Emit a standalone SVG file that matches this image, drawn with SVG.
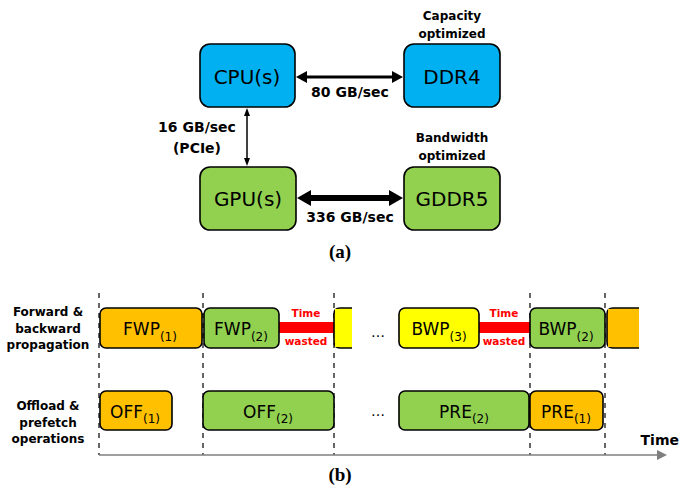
<svg xmlns="http://www.w3.org/2000/svg" width="680" height="491" viewBox="0 0 680 491">
<style>
text{font-family:"DejaVu Sans","Noto Sans",sans-serif;fill:#000}
.box{stroke:#000;stroke-width:1.6}
.big{font-size:20px;text-anchor:middle}
.lbl{font-size:12px;font-weight:bold;text-anchor:middle}
.bw{font-size:14px;font-weight:bold;text-anchor:middle}
.cap{font-family:"Liberation Serif",serif;font-size:19px;font-weight:bold;text-anchor:middle}
.seg{font-size:17px;text-anchor:middle}
.sub{font-size:12px}
.red{fill:#FF0000;font-size:10.5px;font-weight:bold;text-anchor:middle}
.dash{stroke:#000;stroke-width:1.2;stroke-dasharray:5,5}
.blue{fill:#00B0F0}.green{fill:#92D050}.orange{fill:#FFC000}.yellow{fill:#FFFF00}
</style>
<g id="cpu"><rect class="box blue" x="200" y="44" width="95" height="63" rx="10"/><text class="big" x="247" y="84">CPU(s)</text></g>
<g id="ddr4"><rect class="box blue" x="404" y="44" width="96" height="63" rx="10"/><text class="big" x="452" y="84">DDR4</text><text class="lbl" x="452" y="20">Capacity</text><text class="lbl" x="452" y="38">optimized</text></g>
<g id="gpu"><rect class="box green" x="200" y="167" width="96" height="63" rx="10"/><text class="big" x="248" y="206">GPU(s)</text></g>
<g id="gddr5"><rect class="box green" x="404" y="167" width="96" height="63" rx="10"/><text class="big" x="452" y="206">GDDR5</text><text class="lbl" x="452" y="142">Bandwidth</text><text class="lbl" x="452" y="160">optimized</text></g>
<g id="connectors">
<line x1="306" y1="77" x2="393" y2="77" stroke="#000" stroke-width="3"/>
<polygon points="296,77 307,71 307,83"/>
<polygon points="403,77 392,71 392,83"/>
<line x1="247" y1="115" x2="247" y2="159" stroke="#000" stroke-width="1.5"/>
<polygon points="247,108 244,116 250,116"/>
<polygon points="247,166 244,158 250,158"/>
<line x1="309" y1="198" x2="390" y2="198" stroke="#000" stroke-width="6"/>
<polygon points="297,198 311,190 311,206"/>
<polygon points="403,198 389,190 389,206"/>
</g>
<text class="bw" x="350" y="97">80 GB/sec</text>
<text class="bw" x="197" y="132">16 GB/sec</text>
<text class="bw" x="197" y="153">(PCIe)</text>
<text class="bw" x="350" y="222">336 GB/sec</text>
<text class="cap" x="340" y="258">(a)</text>
<g id="timeline">
<line class="dash" x1="99" y1="293" x2="99" y2="455"/>
<line class="dash" x1="203" y1="293" x2="203" y2="455"/>
<line class="dash" x1="334" y1="293" x2="334" y2="455"/>
<line class="dash" x1="530" y1="293" x2="530" y2="455"/>
<line class="dash" x1="605" y1="293" x2="605" y2="455"/>
<line x1="99" y1="455" x2="658" y2="455" stroke="#7F7F7F" stroke-width="1.5"/>
<polygon points="667,455 657,450 657,460" fill="#7F7F7F"/>
<text x="679" y="445" font-size="14" font-weight="bold" text-anchor="end">Time</text>
</g>
<text class="lbl" x="48" y="316">Forward &amp;</text>
<text class="lbl" x="48" y="333">backward</text>
<text class="lbl" x="48" y="349">propagation</text>
<text class="lbl" x="48" y="410">Offload &amp;</text>
<text class="lbl" x="48" y="427">prefetch</text>
<text class="lbl" x="48" y="443">operations</text>
<g id="waste1"><rect x="279" y="322" width="55" height="11" fill="#FF0000"/><text class="red" x="306" y="317">Time</text><text class="red" x="306" y="345">wasted</text></g>
<g id="waste2"><rect x="479" y="322" width="51" height="11" fill="#FF0000"/><text class="red" x="504" y="317">Time</text><text class="red" x="504" y="345">wasted</text></g>
<g id="fwp1"><rect class="box orange" x="100" y="308" width="102" height="40" rx="6"/><text class="seg" x="150" y="335">FWP<tspan class="sub" dy="6">(1)</tspan></text></g>
<g id="fwp2"><rect class="box green" x="204" y="308" width="75" height="40" rx="6"/><text class="seg" x="241" y="335">FWP<tspan class="sub" dy="6">(2)</tspan></text></g>
<g id="yellow-cut"><path class="box yellow" d="M352,308 H340 Q334,308 334,314 V342 Q334,348 340,348 H352"/><rect x="335" y="309" width="17" height="38" fill="#FFFF00"/></g>
<text x="378" y="337" font-size="14" text-anchor="middle">…</text>
<g id="bwp3"><rect class="box yellow" x="399" y="308" width="80" height="40" rx="6"/><text class="seg" x="439" y="335">BWP<tspan class="sub" dy="6">(3)</tspan></text></g>
<g id="bwp2"><rect class="box green" x="530" y="308" width="75" height="40" rx="6"/><text class="seg" x="566" y="335">BWP<tspan class="sub" dy="6">(2)</tspan></text></g>
<g id="orange-cut"><path class="box orange" d="M639,308 H613 Q607,308 607,314 V342 Q607,348 613,348 H639"/><rect x="608" y="309" width="31" height="38" fill="#FFC000"/></g>
<g id="off1"><rect class="box orange" x="100" y="391" width="72" height="39" rx="6"/><text class="seg" x="135" y="418">OFF<tspan class="sub" dy="5">(1)</tspan></text></g>
<g id="off2"><rect class="box green" x="203" y="391" width="131" height="39" rx="6"/><text class="seg" x="268" y="418">OFF<tspan class="sub" dy="5">(2)</tspan></text></g>
<text x="378" y="416" font-size="14" text-anchor="middle">…</text>
<g id="pre2"><rect class="box green" x="399" y="391" width="130" height="39" rx="6"/><text class="seg" x="464" y="418">PRE<tspan class="sub" dy="5">(2)</tspan></text></g>
<g id="pre1"><rect class="box orange" x="530" y="391" width="73" height="39" rx="6"/><text class="seg" x="566" y="418">PRE<tspan class="sub" dy="5">(1)</tspan></text></g>
<text class="cap" x="340" y="481">(b)</text>
</svg>
